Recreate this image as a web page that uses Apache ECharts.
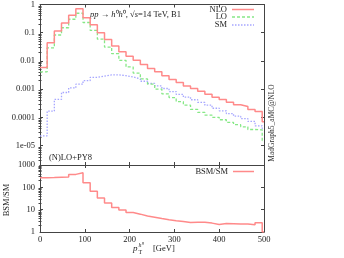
<!DOCTYPE html>
<html><head><meta charset="utf-8">
<script src="https://cdn.jsdelivr.net/npm/echarts@6/dist/echarts.min.js"></script>
<style>html,body{margin:0;padding:0;background:#fff}#c{width:344px;height:258px}</style>
</head><body><div id="c"></div>
<script>
// bin lower edges (GeV); last bin is partial (496-500)
const binEdges = [0,16,32,48,64,80,96,112,128,144,160,176,192,208,224,240,256,272,288,304,320,336,352,368,384,400,416,432,448,464,480,496];
const xEnd = 500;
const nloValues = [0.0058,0.044,0.114,0.22,0.42,0.70,0.34,0.19,0.10,0.058,0.034,0.021,0.0145,0.0105,0.0075,0.0054,0.0041,0.0030,0.0022,0.0017,0.0013,0.00105,0.00084,0.00066,0.00052,0.00043,0.00034,0.00028,0.00024,0.00019,0.00016,0.00007];
const loValues = [0.0041,0.029,0.083,0.15,0.30,0.49,0.23,0.12,0.059,0.031,0.018,0.0105,0.0061,0.0037,0.0023,0.0015,0.00100,0.00068,0.00050,0.00036,0.00027,0.00019,0.00015,0.00012,0.00010,0.000082,0.000066,0.000055,0.000046,0.000037,0.000036,0.000015];
const smValues = [0.000022,0.000166,0.00043,0.00076,0.0011,0.0015,0.0020,0.0026,0.0029,0.0032,0.0032,0.0030,0.0027,0.0023,0.0019,0.0016,0.0013,0.00105,0.00082,0.00065,0.00052,0.00042,0.00034,0.00027,0.00021,0.00017,0.000135,0.00011,0.00009,0.000072,0.00005,0.00004];
const ratioValues = [270,275,285,290,380,450,162,67,33,20,12.5,9.6,7.4,6.3,5.2,4.6,4.0,3.5,3.2,2.95,2.65,2.75,2.7,2.5,2.15,2.4,2.35,2.3,2.3,2.1,2.6,1.0];
const upperTickLabels = {"1":"1","0.1":"0.1","0.01":"0.01","0.001":"0.001","0.0001":"0.0001","0.00001":"1e-05","1e-5":"1e-05"};
const lowerTickLabels = {"1":"1","10":"10","100":"100","1000":"1000"};

function steps(vals){
  const d = vals.map((v,i)=>[binEdges[i], v]);
  d.push([xEnd, vals[vals.length-1]]);
  return d;
}
function minorTicks(lo, hi){
  const out=[];
  for(let e=-6;e<=3;e++){for(let m=2;m<=9;m++){const v=m*Math.pow(10,e); if(v>lo*1.0001 && v<hi*0.9999) out.push(v);}}
  return out;
}
const SERIF = 'Liberation Serif';
const AX = '#444';
const uMin = 2.04e-6, uMax = 1, lMin = 1, lMax = 1000;

function fmtUpper(v){
  const k = Number(v.toPrecision(3)).toString();
  return upperTickLabels[k] !== undefined ? upperTickLabels[k] : '';
}
function fmtLower(v){
  const k = Number(v.toPrecision(3)).toString();
  return lowerTickLabels[k] !== undefined ? lowerTickLabels[k] : '';
}

const grids = [
  {left:40, right:80, top:4, height:161},
  {left:40, right:80, top:165, height:67}
];
function xAx(gi, pos, labels){
  return {type:'value', gridIndex:gi, position:pos, min:0, max:500, interval:100,
    axisLine:{show:true, onZero:false, lineStyle:{color:AX, width:1}},
    axisTick:{show:true, inside:true, length:3, lineStyle:{color:AX}},
    axisLabel:{show:labels, color:'#222', fontFamily:SERIF, fontSize:8.5, margin:3},
    splitLine:{show:false}};
}
function yAx(gi, pos, min, max, labels, fmt, showMin){
  return {type:'log', logBase:10, gridIndex:gi, position:pos, min:min, max:max,
    axisLine:{show:true, onZero:false, lineStyle:{color:AX, width:1}},
    axisTick:{show:true, inside:true, length:3, lineStyle:{color:AX}},
    axisLabel:{show:labels, color:'#222', fontFamily:SERIF, fontSize:8.5, margin:5, showMinLabel:showMin, showMaxLabel:true, formatter:fmt},
    splitLine:{show:false}};
}
function yMinor(gi, pos, min, max){
  return {type:'log', logBase:10, gridIndex:gi, position:pos, min:min, max:max,
    axisLine:{show:false},
    axisTick:{show:true, inside:true, length:1.5, lineStyle:{color:AX}, customValues:minorTicks(min,max)},
    axisLabel:{show:false}, splitLine:{show:false}};
}

const NLO_C = '#ff8a8a', LO_C = '#86e886', SM_C = '#a6a6ff';

const option = {
  animation:false,
  backgroundColor:'#fff',
  grid: grids,
  xAxis: [xAx(0,'bottom',false), xAx(0,'top',false), xAx(1,'bottom',true), xAx(1,'top',false)],
  yAxis: [yAx(0,'left',uMin,uMax,true,fmtUpper,false), yAx(0,'right',uMin,uMax,false,fmtUpper,false),
          yAx(1,'left',lMin,lMax,true,fmtLower,true), yAx(1,'right',lMin,lMax,false,fmtLower,true),
          yMinor(0,'left',uMin,uMax), yMinor(0,'right',uMin,uMax),
          yMinor(1,'left',lMin,lMax), yMinor(1,'right',lMin,lMax)],
  series: [
    {type:'line', xAxisIndex:0, yAxisIndex:0, step:'end', showSymbol:false, symbol:'none', data:steps(smValues),
      lineStyle:{color:SM_C, width:1.3, type:[1.5,1.5]}},
    {type:'line', xAxisIndex:0, yAxisIndex:0, step:'end', showSymbol:false, symbol:'none', data:steps(loValues),
      lineStyle:{color:LO_C, width:1.3, type:[3,2]}},
    {type:'line', xAxisIndex:0, yAxisIndex:0, step:'end', showSymbol:false, symbol:'none', data:steps(nloValues),
      lineStyle:{color:NLO_C, width:1.5}},
    {type:'line', xAxisIndex:2, yAxisIndex:2, step:'end', showSymbol:false, symbol:'none', data:steps(ratioValues),
      lineStyle:{color:NLO_C, width:1.5}}
  ],
  graphic: [
    {type:'text', left:90, top:10, style:{
      text:'{i|pp} → {i|h}⁰{i|h}⁰, √{i|s}=14 TeV, B1',
      font:'8.5px '+SERIF, fill:'#222',
      rich:{i:{fontStyle:'italic', fontFamily:SERIF, fontSize:8.5, fill:'#222'}}}},
    {type:'text', right:344-227, top:5, style:{text:'NLO', font:'8.5px '+SERIF, fill:'#222', align:'right'}},
    {type:'text', right:344-227, top:12.5, style:{text:'LO', font:'8.5px '+SERIF, fill:'#222', align:'right'}},
    {type:'text', right:344-227, top:20.5, style:{text:'SM', font:'8.5px '+SERIF, fill:'#222', align:'right'}},
    {type:'line', shape:{x1:232, y1:9.5, x2:254, y2:9.5}, style:{stroke:NLO_C, lineWidth:1.5}},
    {type:'line', shape:{x1:232, y1:17, x2:254, y2:17}, style:{stroke:LO_C, lineWidth:1.3, lineDash:[3,2]}},
    {type:'line', shape:{x1:232, y1:25, x2:254, y2:25}, style:{stroke:SM_C, lineWidth:1.3, lineDash:[1.5,1.5]}},
    {type:'text', left:49, top:153, style:{text:'(N)LO+PY8', font:'8.5px '+SERIF, fill:'#222'}},
    {type:'text', right:344-228, top:167, style:{text:'BSM/SM', font:'8.5px '+SERIF, fill:'#222', align:'right'}},
    {type:'line', shape:{x1:233, y1:171.5, x2:254, y2:171.5}, style:{stroke:NLO_C, lineWidth:1.5}},
    {type:'text', x:7, y:200, rotation:Math.PI/2, style:{text:'BSM/SM', font:'8.5px '+SERIF, fill:'#222', align:'center', verticalAlign:'middle'}},
    {type:'text', x:133, y:249, style:{text:'p', font:'italic 9px '+SERIF, fill:'#222', verticalAlign:'middle'}},
    {type:'text', x:138.5, y:252.5, style:{text:'T', font:'6px '+SERIF, fill:'#222', verticalAlign:'middle'}},
    {type:'text', x:138.5, y:245, style:{text:'{i|h}⁰', font:'6px '+SERIF, fill:'#222', verticalAlign:'middle', rich:{i:{fontStyle:'italic', fontFamily:SERIF, fontSize:6, fill:'#222'}}}},
    {type:'text', x:153, y:249, style:{text:'[GeV]', font:'8.5px '+SERIF, fill:'#222', verticalAlign:'middle'}},
    {type:'text', x:272, y:123, rotation:Math.PI/2, style:{text:'MadGraph5_aMC@NLO', font:'7.5px '+SERIF, fill:'#333', align:'center', verticalAlign:'middle'}}
  ]
};
echarts.init(document.getElementById('c'), null, {renderer:'canvas'}).setOption(option);
</script></body></html>
